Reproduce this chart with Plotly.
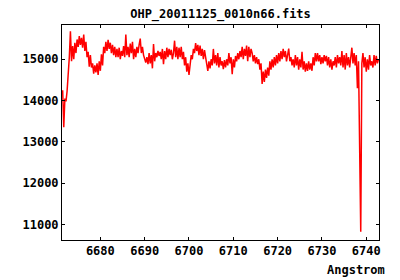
import plotly.graph_objects as go

TITLE = "OHP_20011125_0010n66.fits"
X_LABEL = "Angstrom"

WAVE_START = 6671.5
WAVE_STEP = 0.25

flux = [
    14250, 13350, 14050, 13980, 14230, 14560, 15050, 15680, 14950, 15320,
    15000, 15400, 15150, 15480, 15300, 15560, 15350, 15520, 15280, 15600,
    15200, 15420, 15050, 15180, 14820, 15100, 14800, 14900, 14650, 14850,
    14680, 14900, 14620, 14950, 14720, 15120, 14850, 15300, 15150, 15420,
    15200, 15470, 15250, 15400, 15150, 15350, 15100, 15300, 15050, 15250,
    15050, 15280, 15000, 15200, 15080, 15320, 15050, 15600, 15100, 15300,
    15050, 15380, 15150, 15420, 15000, 15250, 15050, 15300, 15150, 15350,
    15500, 15150, 15300, 15100, 14980, 14920, 15050, 14880, 15150, 14900,
    15100, 14780, 15370, 14950, 15150, 15050, 15200, 15080, 15180, 15000,
    15250, 14880, 15200, 15000, 15280, 15050, 15250, 15100, 15230, 15000,
    15150, 15450, 15050, 15300, 15000, 15280, 15050, 15300, 15000, 15180,
    14850, 15050, 14700, 14900, 14620, 14850, 15100, 15000, 15250, 15150,
    15390, 15200, 15350, 15100, 15330, 15080, 15250, 15000, 15220, 15050,
    14850, 14720, 14950, 14780, 15000, 14850, 15250, 14900, 15100, 14850,
    15150, 14800, 15050, 14850, 14950, 14760, 14980, 14800, 15000, 14850,
    15150, 14900, 15050, 14640, 15000, 14800, 15080, 14950, 15150, 15000,
    15200, 15050, 15300, 15000, 15250, 15080, 15330, 14950, 15300, 15050,
    15250, 15150, 14950, 15100, 14900, 15050, 14880, 15000, 14750, 14900,
    14400, 14700, 14450, 14750, 14550, 14800, 14600, 14950, 14750, 15000,
    14800, 15050, 14850, 15100, 14900, 15150, 14950, 15200, 15000, 15250,
    15050, 15200, 14950, 15150, 15260, 14950, 15050, 14850, 15000, 14800,
    15100, 14850, 15050, 14750, 15000, 14800, 15180, 14750, 14950, 14700,
    14900, 14720, 14950, 14750, 14900, 14720, 15050, 14850, 15150, 14950,
    15150, 14950, 15100, 14880, 15050, 14900, 15100, 14950, 15080, 14850,
    15050, 14800, 15000, 14750, 14950, 14850, 15050, 14800, 15100, 14900,
    15050, 14850, 15200, 14800, 15100, 14750, 15150, 14850, 15050, 14800,
    15000, 15280, 14900, 15150, 14850, 15100, 14300, 14950, 12880, 10820,
    14900, 15150, 14800, 15050, 14700, 15000, 14750, 15100, 14850, 14950,
    14800, 15100, 14850, 15080, 14900, 15000,
]

wave = [WAVE_START + WAVE_STEP * i for i in range(len(flux))]

X_TICKS = [6680, 6690, 6700, 6710, 6720, 6730, 6740]
Y_TICKS = [11000, 12000, 13000, 14000, 15000]
X_RANGE = [6671.35, 6742.87]
Y_RANGE = [10620, 15830]

FONT = "DejaVu Sans Mono"
FSIZE = 12

fig = go.Figure()
fig.add_trace(go.Scatter(
    x=wave, y=flux, mode="lines",
    line=dict(color="#ff0000", width=1.5),
    showlegend=False, hoverinfo="skip",
))

axis_common = dict(
    showgrid=False, zeroline=False,
    showline=True, linecolor="black", linewidth=1,
    mirror="ticks", ticks="inside", ticklen=3, tickcolor="black", tickwidth=1,
    tickfont=dict(family=FONT, size=FSIZE, color="black", weight="bold"),
)

fig.update_xaxes(range=X_RANGE, tickvals=X_TICKS,
                 ticktext=[str(v) for v in X_TICKS], **axis_common)
fig.update_yaxes(range=Y_RANGE, tickvals=Y_TICKS,
                 ticktext=[str(v) for v in Y_TICKS], **axis_common)

fig.update_layout(
    width=400, height=280,
    margin=dict(l=62, r=21, t=25, b=40),
    paper_bgcolor="white", plot_bgcolor="white",
    title=dict(text=TITLE, x=220.5 / 400, xanchor="center",
               y=1 - 14 / 280, yanchor="middle",
               font=dict(family=FONT, size=FSIZE, color="black", weight="bold")),
    annotations=[dict(
        text=X_LABEL, xref="paper", yref="paper",
        x=(387 - 62) / 317, y=(240 - 270) / 215,
        xanchor="right", yanchor="middle", showarrow=False,
        font=dict(family=FONT, size=FSIZE, color="black", weight="bold"),
    )],
)

fig.write_html("out.html")
